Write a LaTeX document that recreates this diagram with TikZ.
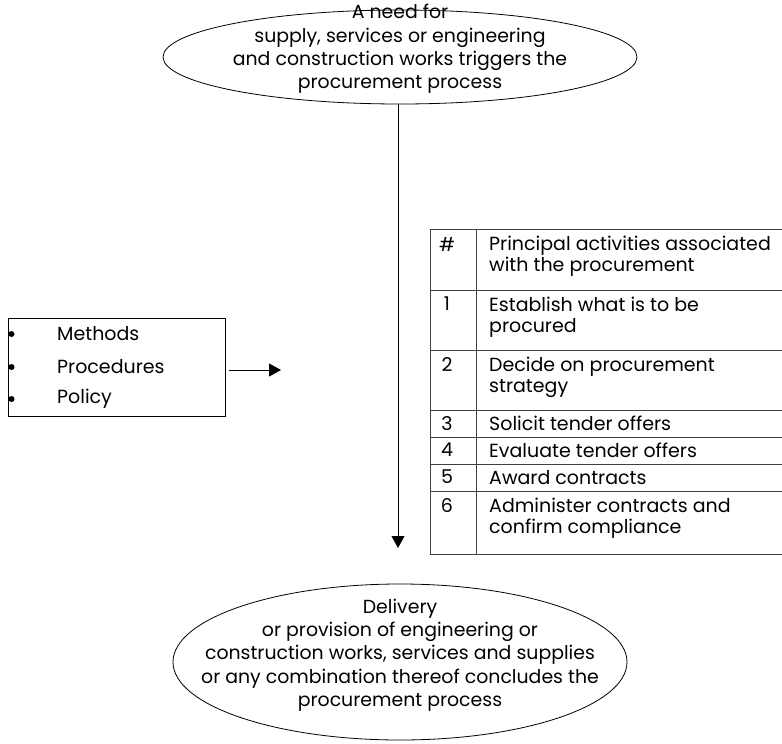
\documentclass[tikz,border=0pt]{standalone}
\usepackage{fontspec}
\setmainfont{Poppins}
\usetikzlibrary{shapes.geometric,arrows.meta,positioning}

\tikzset{
  bubble/.style={ellipse,draw=black,line width=0.8pt,inner sep=0pt},
  bubbletxt/.style={align=center,inner sep=0pt,font=\fontsize{18.9}{23.3}\selectfont},
  celltxt/.style={anchor=north west,align=left,inner sep=0pt,font=\fontsize{19}{21}\selectfont},
  cellnum/.style={anchor=north,inner sep=0pt,font=\fontsize{19}{21}\selectfont},
  listtxt/.style={anchor=west,inner sep=0pt,font=\fontsize{19}{21}\selectfont},
  dot/.style={circle,fill=black,inner sep=0pt,minimum size=6pt},
  gridline/.style={draw=black!75,line width=0.8pt},
  flow/.style={-{Triangle[width=13pt,length=12pt]},line width=0.9pt}
}

\begin{document}
\begin{tikzpicture}[x=1pt,y=-1pt]
    \useasboundingbox (0,0) rectangle (782,744);

    % the two end points of the process
    \node (need) [bubble, minimum width=474pt, minimum height=94pt] at (400,57) {};
    \node (needtxt) [bubbletxt] at (400,49) {A need for\\supply, services or engineering\\and construction works triggers the\\procurement process};
    \node (done) [bubble, minimum width=454pt, minimum height=156pt] at (400,662) {};
    \node (donetxt) [bubbletxt] at (400,655) {Delivery\\or provision of engineering or\\construction works, services and supplies\\or any combination thereof concludes the\\procurement process};

    % main flow
    \coordinate (flowend) at (398,548);
    \draw [flow] (need.south -| flowend) -- (flowend);

    % methods, procedures, policy
    \node (rules) [draw=black, line width=0.8pt, inner sep=0pt, minimum width=217pt, minimum height=98pt] at (116.5,367) {};
    \node (b1) [dot] at (11.5,334) {};
    \node (b2) [dot] at (11.5,367) {};
    \node (b3) [dot] at (11.5,399) {};
    \node (m1) [listtxt] at (57,334) {Methods};
    \node (m2) [listtxt] at (57,367) {Procedures};
    \node (m3) [listtxt] at (57,399) {Policy};
    \coordinate (rulesend) at (281,370);
    \draw [flow] (rules.east |- rulesend) ++(4,0) -- (rulesend);

    % table of activities
    \draw [gridline] (430,229) rectangle (782,554);
    \draw [gridline] (476,229) -- (476,554);
    \draw [gridline] (430,290) -- (782,290);
    \draw [gridline] (430,350) -- (782,350);
    \draw [gridline] (430,410) -- (782,410);
    \draw [gridline] (430,437) -- (782,437);
    \draw [gridline] (430,464) -- (782,464);
    \draw [gridline] (430,491) -- (782,491);

    \node (n0) [cellnum] at (447,237) {\#};
    \node (t0) [celltxt] at (489,236) {Principal activities associated\\with the procurement};
    \node (n1) [cellnum] at (447,297) {1};
    \node (t1) [celltxt] at (489,297) {Establish what is to be\\procured};
    \node (n2) [cellnum] at (447,357) {2};
    \node (t2) [celltxt] at (489,357) {Decide on procurement\\strategy};
    \node (n3) [cellnum] at (447,416) {3};
    \node (t3) [celltxt] at (489,416) {Solicit tender offers};
    \node (n4) [cellnum] at (447,443) {4};
    \node (t4) [celltxt] at (489,443) {Evaluate tender offers};
    \node (n5) [cellnum] at (447,470) {5};
    \node (t5) [celltxt] at (489,470) {Award contracts};
    \node (n6) [cellnum] at (447,498) {6};
    \node (t6) [celltxt] at (489,498) {Administer contracts and\\confirm compliance};
\end{tikzpicture}
\end{document}
